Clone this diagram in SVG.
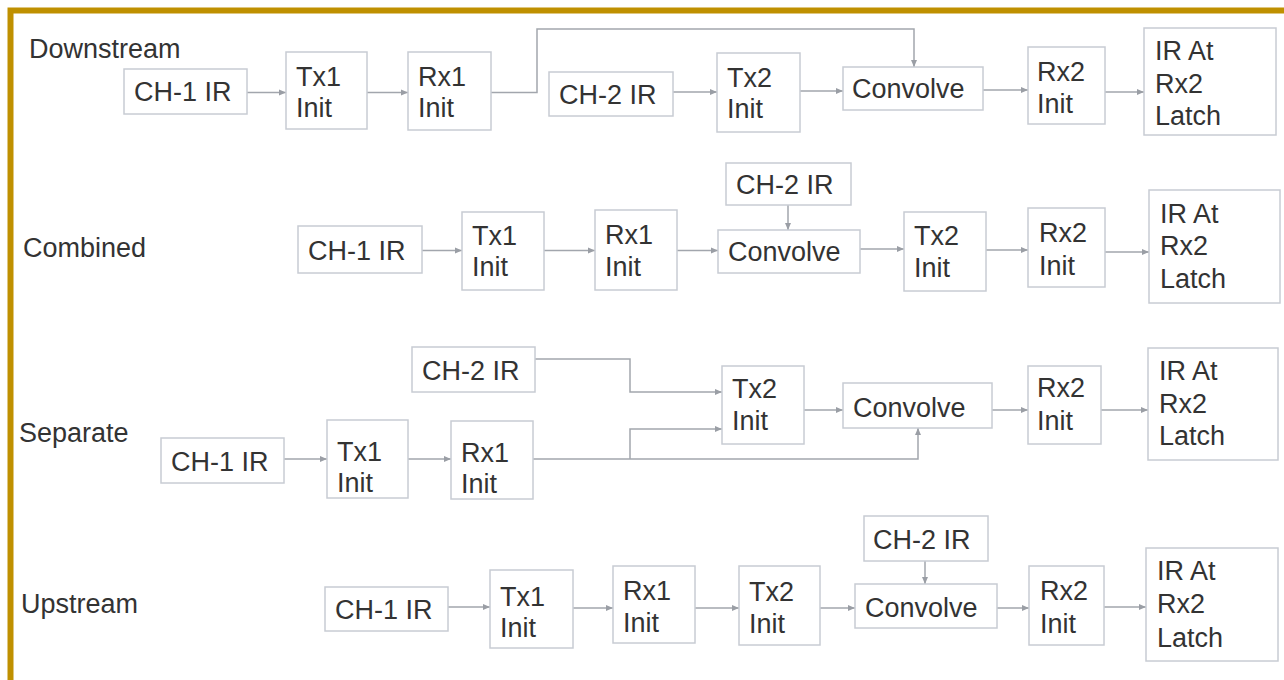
<svg xmlns="http://www.w3.org/2000/svg" width="1284" height="680" viewBox="0 0 1284 680">
<defs>
<marker id="ah" markerUnits="userSpaceOnUse" markerWidth="8" markerHeight="8" refX="7" refY="4" orient="auto">
<path d="M0,1 L7,4 L0,7 z" fill="#9a9ea5"/>
</marker>
<style>
.b{fill:#fff;stroke:#c8ccd3;stroke-width:1.5}
.t{font-family:"Liberation Sans",Arial,sans-serif;font-size:27px;fill:#333}
.c{fill:none;stroke:#a2a6ad;stroke-width:1.5;marker-end:url(#ah)}
.l{font-family:"Liberation Sans",Arial,sans-serif;font-size:27px;fill:#333}
</style>
</defs>
<rect x="0" y="0" width="1284" height="680" fill="#fff"/>
<rect x="10.5" y="10.5" width="1320" height="720" fill="none" stroke="#bf9000" stroke-width="6"/>

<g id="labels">
<text class="l" x="29" y="58">Downstream</text>
<text class="l" x="23" y="257">Combined</text>
<text class="l" x="19" y="442">Separate</text>
<text class="l" x="21" y="613">Upstream</text>
</g>

<g id="connectors">
<path class="c" d="M247,92.5 H286"/>
<path class="c" d="M367,92.5 H408"/>
<path class="c" d="M491,92.5 H537 V29 H914 V67"/>
<path class="c" d="M673,92 H717"/>
<path class="c" d="M800,91 H843"/>
<path class="c" d="M983,90 H1028"/>
<path class="c" d="M1105,92 H1144"/>

<path class="c" d="M422,250.5 H462"/>
<path class="c" d="M544,250.5 H595"/>
<path class="c" d="M677,250.5 H718"/>
<path class="c" d="M788,205 V230"/>
<path class="c" d="M860,249 H904"/>
<path class="c" d="M986,250 H1028"/>
<path class="c" d="M1105,252 H1149"/>

<path class="c" d="M284,459 H327"/>
<path class="c" d="M408,459 H451"/>
<path class="c" d="M535,359 H630 V392 H722"/>
<path class="c" d="M533,459 H918 V428"/>
<path class="c" d="M630,459 V429 H722"/>
<path class="c" d="M804,410 H843"/>
<path class="c" d="M992,410 H1028"/>
<path class="c" d="M1101,410 H1148"/>

<path class="c" d="M448,607 H490"/>
<path class="c" d="M573,608 H613"/>
<path class="c" d="M695,608 H739"/>
<path class="c" d="M820,608 H855"/>
<path class="c" d="M925,561 V584"/>
<path class="c" d="M997,608 H1029"/>
<path class="c" d="M1104,607 H1146"/>
</g>

<g id="d_ch1"><rect class="b" x="124" y="69" width="123" height="45"/><text class="t" x="134" y="101">CH-1 IR</text></g>
<g id="d_tx1"><rect class="b" x="286" y="52" width="81" height="77"/><text class="t" x="296" y="86">Tx1</text><text class="t" x="296" y="117">Init</text></g>
<g id="d_rx1"><rect class="b" x="408" y="52" width="83" height="78"/><text class="t" x="418" y="86">Rx1</text><text class="t" x="418" y="117">Init</text></g>
<g id="d_ch2"><rect class="b" x="549" y="72" width="124" height="44"/><text class="t" x="559" y="104">CH-2 IR</text></g>
<g id="d_tx2"><rect class="b" x="717" y="53" width="83" height="79"/><text class="t" x="727" y="87">Tx2</text><text class="t" x="727" y="118">Init</text></g>
<g id="d_conv"><rect class="b" x="843" y="67" width="140" height="43"/><text class="t" x="852" y="98">Convolve</text></g>
<g id="d_rx2"><rect class="b" x="1028" y="47" width="77" height="77"/><text class="t" x="1037" y="81">Rx2</text><text class="t" x="1037" y="113">Init</text></g>
<g id="d_ir"><rect class="b" x="1144" y="28" width="132" height="107"/><text class="t" x="1155" y="60">IR At</text><text class="t" x="1155" y="93">Rx2</text><text class="t" x="1155" y="125">Latch</text></g>

<g id="c_ch1"><rect class="b" x="298" y="226" width="124" height="47"/><text class="t" x="308" y="260">CH-1 IR</text></g>
<g id="c_tx1"><rect class="b" x="462" y="212" width="82" height="78"/><text class="t" x="472" y="245">Tx1</text><text class="t" x="472" y="276">Init</text></g>
<g id="c_rx1"><rect class="b" x="595" y="210" width="82" height="80"/><text class="t" x="605" y="244">Rx1</text><text class="t" x="605" y="276">Init</text></g>
<g id="c_ch2"><rect class="b" x="726" y="163" width="125" height="42"/><text class="t" x="736" y="194">CH-2 IR</text></g>
<g id="c_conv"><rect class="b" x="718" y="230" width="142" height="43"/><text class="t" x="728" y="261">Convolve</text></g>
<g id="c_tx2"><rect class="b" x="904" y="212" width="82" height="79"/><text class="t" x="914" y="245">Tx2</text><text class="t" x="914" y="277">Init</text></g>
<g id="c_rx2"><rect class="b" x="1028" y="208" width="77" height="79"/><text class="t" x="1039" y="242">Rx2</text><text class="t" x="1039" y="275">Init</text></g>
<g id="c_ir"><rect class="b" x="1149" y="190" width="131" height="113"/><text class="t" x="1160" y="223">IR At</text><text class="t" x="1160" y="255">Rx2</text><text class="t" x="1160" y="288">Latch</text></g>

<g id="s_ch2"><rect class="b" x="412" y="347" width="123" height="45"/><text class="t" x="422" y="380">CH-2 IR</text></g>
<g id="s_ch1"><rect class="b" x="161" y="438" width="123" height="45"/><text class="t" x="171" y="471">CH-1 IR</text></g>
<g id="s_tx1"><rect class="b" x="327" y="420" width="81" height="78"/><text class="t" x="337" y="461">Tx1</text><text class="t" x="337" y="492">Init</text></g>
<g id="s_rx1"><rect class="b" x="451" y="421" width="82" height="78"/><text class="t" x="461" y="462">Rx1</text><text class="t" x="461" y="493">Init</text></g>
<g id="s_tx2"><rect class="b" x="722" y="366" width="82" height="78"/><text class="t" x="732" y="398">Tx2</text><text class="t" x="732" y="430">Init</text></g>
<g id="s_conv"><rect class="b" x="843" y="383" width="149" height="45"/><text class="t" x="853" y="417">Convolve</text></g>
<g id="s_rx2"><rect class="b" x="1028" y="366" width="73" height="78"/><text class="t" x="1037" y="397">Rx2</text><text class="t" x="1037" y="430">Init</text></g>
<g id="s_ir"><rect class="b" x="1148" y="348" width="130" height="112"/><text class="t" x="1159" y="380">IR At</text><text class="t" x="1159" y="413">Rx2</text><text class="t" x="1159" y="445">Latch</text></g>

<g id="u_ch1"><rect class="b" x="325" y="587" width="123" height="44"/><text class="t" x="335" y="619">CH-1 IR</text></g>
<g id="u_tx1"><rect class="b" x="490" y="570" width="83" height="78"/><text class="t" x="500" y="606">Tx1</text><text class="t" x="500" y="637">Init</text></g>
<g id="u_rx1"><rect class="b" x="613" y="566" width="82" height="77"/><text class="t" x="623" y="600">Rx1</text><text class="t" x="623" y="632">Init</text></g>
<g id="u_tx2"><rect class="b" x="739" y="566" width="81" height="79"/><text class="t" x="749" y="601">Tx2</text><text class="t" x="749" y="633">Init</text></g>
<g id="u_ch2"><rect class="b" x="864" y="516" width="124" height="45"/><text class="t" x="873" y="549">CH-2 IR</text></g>
<g id="u_conv"><rect class="b" x="855" y="584" width="142" height="44"/><text class="t" x="865" y="617">Convolve</text></g>
<g id="u_rx2"><rect class="b" x="1029" y="566" width="75" height="79"/><text class="t" x="1040" y="600">Rx2</text><text class="t" x="1040" y="633">Init</text></g>
<g id="u_ir"><rect class="b" x="1146" y="548" width="132" height="113"/><text class="t" x="1157" y="580">IR At</text><text class="t" x="1157" y="613">Rx2</text><text class="t" x="1157" y="647">Latch</text></g>
</svg>
